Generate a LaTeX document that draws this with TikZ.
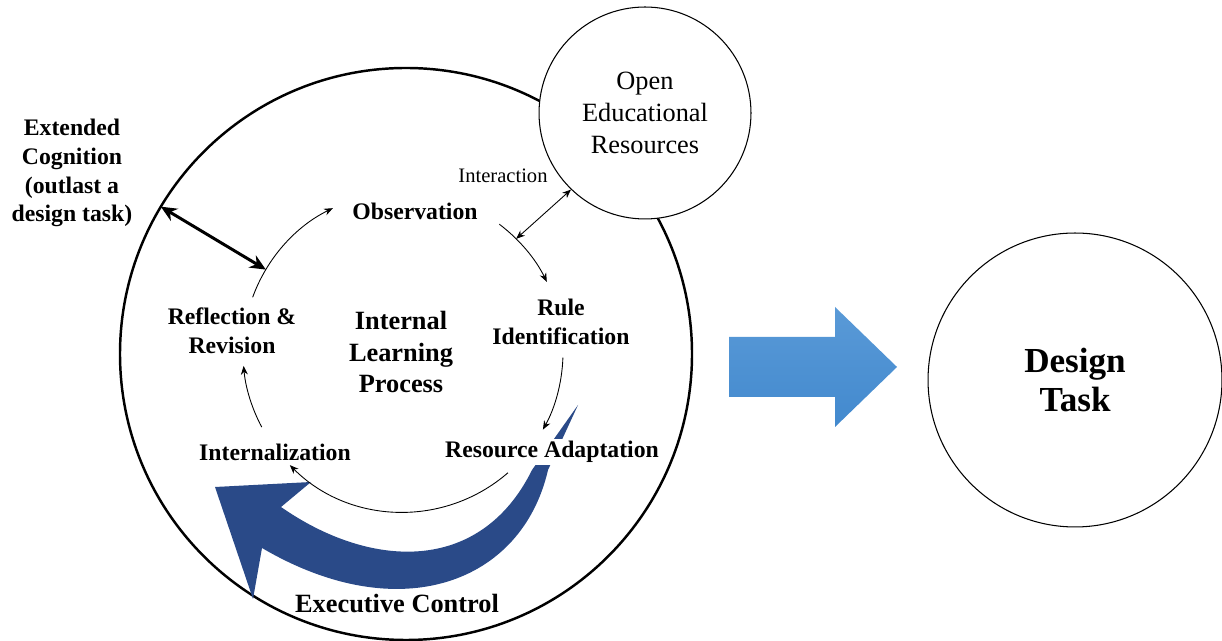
\documentclass[tikz,border=0pt]{standalone}
\usepackage{fontspec}
\setmainfont{Liberation Serif}
\usetikzlibrary{arrows.meta}
\definecolor{ctrlBlue}{RGB}{42,74,136}
\definecolor{arrowLight}{RGB}{90,154,215}
\definecolor{arrowDark}{RGB}{66,137,206}
\newcommand\ringR{286}
\newcommand\cycR{160}
\newcommand\stageFont{\bfseries\fontsize{13.5}{16.4}\selectfont}

\begin{document}
\begin{tikzpicture}[x=0.02cm, y=0.02cm, >={Stealth[length=5pt,width=4pt]},
    stage/.style={font=\stageFont, align=center},
    cyc/.style={->, line width=0.5pt},
    bubble/.style={circle, draw, fill=white, line width=0.6pt, inner sep=0pt, align=center}]

    \useasboundingbox (0,0) rectangle (1222,641);

    \coordinate (ringC) at (406,287);
    \coordinate (cycC) at (403,289);

    % outer ring
    \draw[line width=1.4pt] (ringC) circle[radius=\ringR];

    % executive control
    \fill[ctrlBlue] (578,236) -- (548,171) .. controls (522,58) and (400,12) .. (262,93) -- (253,42) -- (215,154) -- (311,159) -- (281,134) .. controls (370,72) and (480,66) .. (532,171) -- cycle;

    \node[bubble, minimum size=4.24cm, font=\fontsize{15}{18.4}\selectfont] (oer) at (645,528) {Open\\Educational\\Resources};
    \node[bubble, minimum size=5.88cm, font=\bfseries\fontsize{20}{22.7}\selectfont] (task) at (1075,261) {Design\\Task};

    % big arrow to the task
    \shade[top color=arrowLight, bottom color=arrowDark] (729,244) -- (835,244) -- (835,214) -- (897,274) -- (835,334) -- (835,304) -- (729,304) -- cycle;

    \node[stage] (obs) at (415,430) {Observation};
    \node[stage] (rule) at (561,319) {Rule\\Identification};
    \node[stage, fill=white, inner sep=1.5pt] (adapt) at (552,189) {Resource Adaptation};
    \node[stage] (intern) at (275,189) {Internalization};
    \node[stage] (reflect) at (232,310) {Reflection \&\\Revision};
    \node[font=\bfseries\fontsize{15}{18}\selectfont, align=center] (ilp) at (401,289) {Internal\\Learning\\Process};
    \node[font=\fontsize{11.7}{14}\selectfont] (inter) at (503,465) {Interaction};
    \node[stage] (ext) at (72,468) {Extended\\Cognition\\(outlast a\\design task)};
    \node[font=\bfseries\fontsize{15}{18}\selectfont] (exec) at (397,37) {Executive Control};

    % cycle
    \foreach \a/\b in {160/116, 53/26, -2/-29, -49/-135, -152/-175}
      \draw[cyc] ([shift={(\a:\cycR)}]cycC) arc[start angle=\a, end angle=\b, radius=\cycR];

    \coordinate (extOut) at ([shift={(149:\ringR)}]ringC);
    \coordinate (extIn) at ([shift={(149:\cycR)}]cycC);
    \coordinate (interIn) at ([shift={(45:\cycR)}]cycC);

    \draw[{Stealth[length=9pt,width=8pt]}-{Stealth[length=9pt,width=8pt]}, line width=1.7pt] (extOut) -- (extIn);
    \draw[<->, line width=0.5pt] (oer.226) -- (interIn);

\end{tikzpicture}
\end{document}
